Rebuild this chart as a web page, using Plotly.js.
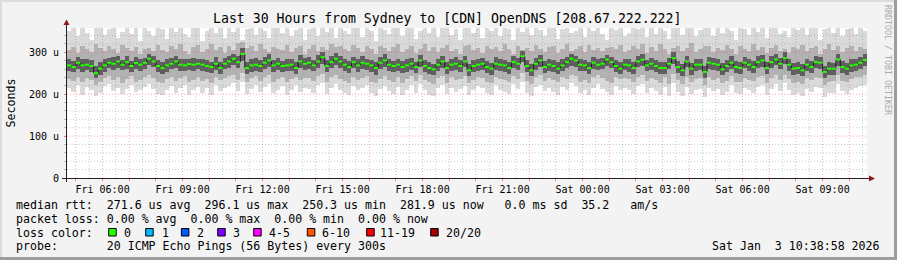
<!DOCTYPE html>
<html><head><meta charset="utf-8">
<script src="https://cdn.plot.ly/plotly-3.0.1.min.js"></script>
<style>html,body{margin:0;padding:0;background:#f3f3f3;overflow:hidden}#chart{width:897px;height:260px}</style>
</head><body><div id="chart"></div>
<script>
// ---- data (values in microseconds) ----
const startTime = [2026, 0, 2, 4, 40]; // Fri Jan 2 2026 04:40
const stepMinutes = 10;

const median = [
268.8,264.9,275.1,268.8,270.4,267.3,250.3,261.0,268.8,275.1,272.7,278.2,270.4,276.6,267.3,274.3,270.4,275.1,
284.5,278.2,267.3,262.5,268.8,272.7,278.2,270.4,268.8,271.9,270.4,272.7,270.4,267.3,264.9,272.7,262.5,272.7,
278.2,284.5,276.6,296.1,262.5,268.8,270.4,267.3,275.1,280.5,268.8,272.7,267.3,268.8,270.4,262.5,278.2,272.7,
275.1,268.8,278.2,288.4,267.3,276.6,284.5,278.2,270.4,264.9,276.6,268.8,275.1,272.7,268.8,262.5,275.1,280.5,
270.4,267.3,270.4,264.9,268.8,272.7,264.9,280.5,267.3,262.5,259.4,270.4,278.2,262.5,270.4,272.7,267.3,278.2,
257.1,267.3,270.4,272.7,264.9,261.0,272.7,270.4,268.8,262.5,276.6,272.7,290.7,267.3,257.1,272.7,280.5,264.9,
270.4,267.3,261.0,268.8,276.6,284.5,280.5,270.4,268.8,262.5,275.1,270.4,272.7,282.9,276.6,267.3,261.0,270.4,
268.8,262.5,278.2,282.1,268.8,272.7,267.3,262.5,262.5,272.7,286.0,264.9,257.1,278.2,261.0,270.4,270.4,253.2,
275.1,272.7,270.4,259.4,267.3,275.1,264.9,262.5,275.1,270.4,264.9,276.6,280.5,262.5,276.6,282.9,272.7,286.0,
270.4,261.0,262.5,257.1,270.4,264.9,276.6,275.1,253.2,261.0,261.0,282.9,264.9,261.0,268.8,270.4,275.1,281.9];

const pingMax = [
352,360,338,365,347,329,358,362,341,355,368,333,349,361,344,357,326,363,
350,339,366,356,331,362,348,370,343,336,359,364,327,352,367,345,358,335,
361,349,372,330,356,363,342,368,351,334,360,357,346,369,338,353,364,329,
355,366,340,359,348,371,333,362,352,344,367,358,337,363,350,328,365,354,
343,360,368,339,357,364,332,351,369,346,361,336,358,366,341,355,330,362,
368,347,359,334,365,352,361,340,370,356,329,363,348,357,342,367,353,338,
359,364,331,356,369,345,352,362,337,366,350,358,343,329,361,354,367,340,
347,363,355,370,336,360,344,368,351,331,357,365,342,359,372,338,353,361,
364,339,358,346,367,352,330,363,356,341,369,348,360,335,357,366,344,351,
336,361,353,367,342,358,364,329,355,370,347,362,338,356,365,343,359,352];

const pingHigh = [
305,312,298,316,308,301,319,310,303,314,307,299,317,311,304,313,296,309,
311,302,318,306,300,315,309,321,304,297,313,317,301,308,320,305,312,299,
314,306,322,325,310,316,303,319,307,300,312,309,305,318,301,311,315,297,
308,317,302,313,306,320,312,314,309,303,318,311,300,315,307,296,316,310,
303,312,319,301,309,315,298,307,321,304,313,300,310,317,302,308,297,314,
318,305,311,299,316,308,313,302,320,309,296,314,306,310,303,317,308,300,
312,316,298,309,319,304,307,314,300,317,306,311,303,310,313,308,318,301,
305,315,309,321,299,312,303,319,307,296,310,316,302,311,322,300,308,314,
316,300,310,305,318,307,297,314,309,302,320,306,312,299,310,317,303,308,
298,313,308,318,303,311,315,296,309,321,305,314,300,310,316,302,312,307];

const pingUpperMid = [
283,279,288,284,283,281,268,276,285,287,288,291,282,290,280,289,284,287,
297,291,281,277,284,286,292,283,285,284,286,285,283,282,278,288,276,286,
292,297,290,310,277,283,286,281,288,295,282,287,280,284,283,277,293,286,
289,282,293,301,281,290,298,291,284,279,289,283,290,285,282,277,288,295,
284,280,285,279,283,287,278,294,281,277,273,285,291,276,284,288,281,292,
272,281,284,287,279,275,288,283,282,277,291,286,304,281,272,287,294,279,
284,281,276,283,289,295,292,284,282,277,288,283,286,294,289,281,276,285,
283,277,292,296,282,287,281,276,277,286,300,279,271,291,275,285,283,268,
289,286,284,274,281,290,279,277,288,284,279,291,294,277,290,297,286,300,
284,275,277,272,285,279,290,289,268,276,275,297,279,275,283,285,289,296];

const pingLowerMid = [
255,252,260,253,257,254,238,247,254,262,258,263,257,261,253,259,256,261,
270,264,252,249,254,259,263,255,256,258,255,259,256,252,251,257,248,259,
263,270,262,279,248,254,255,253,261,265,254,258,253,255,256,248,263,258,
261,255,263,273,252,262,270,263,256,250,262,253,260,258,254,247,261,266,
256,253,255,250,254,258,251,266,252,248,245,256,263,248,255,258,253,264,
243,253,256,258,250,247,257,256,254,248,262,258,276,253,243,258,266,251,
256,254,248,255,262,268,265,256,255,249,261,257,259,268,262,254,248,257,
254,249,264,268,255,258,253,248,249,259,272,251,243,264,247,256,257,239,
261,258,256,245,253,261,251,248,262,256,250,262,266,249,263,269,259,272,
256,247,248,243,256,251,262,261,239,247,246,268,250,247,254,256,261,267];

const pingLow = [
236,231,242,228,239,234,222,229,238,244,233,240,227,237,243,230,235,241,
245,238,229,226,236,241,232,239,244,228,235,240,231,237,226,242,234,239,
243,247,234,250,229,238,244,232,240,246,230,237,242,228,236,241,233,239,
238,232,244,248,229,240,245,236,231,227,242,235,239,244,230,226,237,243,
234,229,240,226,237,243,231,245,235,228,224,238,244,227,240,233,236,243,
226,235,241,238,230,227,242,236,233,229,244,237,250,231,225,240,245,232,
239,233,228,241,236,247,243,230,235,226,240,246,238,232,227,242,236,239,
237,228,242,245,231,239,234,227,240,225,248,233,224,241,229,236,238,222,
240,234,238,226,232,243,230,228,239,235,231,240,244,227,238,245,233,247,
236,226,230,224,238,233,241,239,222,229,231,246,232,228,237,240,242,245];

const pingMin = [
214,205,221,199,217,210,196,203,219,225,208,216,201,213,222,206,211,218,
224,212,200,197,209,220,204,215,223,199,210,218,203,214,198,221,207,216,
220,226,208,228,201,213,222,205,217,224,202,211,219,198,209,221,206,215,
213,204,222,227,200,216,224,209,203,197,220,210,215,223,202,196,212,219,
207,201,217,198,211,221,204,225,209,199,195,214,222,200,216,206,212,220,
197,209,219,214,203,199,221,210,205,200,224,213,229,204,196,217,223,207,
215,206,199,218,211,226,220,203,209,197,216,225,212,205,198,219,210,214,
211,200,219,224,204,215,208,198,217,196,227,206,195,218,201,210,213,193,
216,208,213,197,205,221,203,200,214,209,204,217,223,199,212,224,207,226,
210,197,203,195,213,206,218,214,193,202,204,225,207,200,211,216,220,223];

const xTickLabels = ['Fri 06:00','Fri 09:00','Fri 12:00','Fri 15:00','Fri 18:00','Fri 21:00',
                     'Sat 00:00','Sat 03:00','Sat 06:00','Sat 09:00'];
const yTickVals = [0, 100, 200, 300];
const yTickLabels = ['0', '100 u', '200 u', '300 u'];

const lossLabels = ['0', '1', '2', '3', '4-5', '6-10', '11-19', '20/20'];
const lossColors = ['#26ff00', '#00b8ff', '#0059ff', '#7e00ff', '#ff00ff', '#ff5500', '#ff0000', '#a10000'];

const titleText = 'Last 30 Hours from Sydney to [CDN] OpenDNS [208.67.222.222]';
const legendLines = [
  'median rtt:  271.6 us avg  296.1 us max  250.3 us min  281.9 us now   0.0 ms sd  35.2   am/s',
  'packet loss: 0.00 % avg  0.00 % max  0.00 % min  0.00 % now',
  'loss color:',
  'probe:       20 ICMP Echo Pings (56 Bytes) every 300s'
];
const dateStamp = 'Sat Jan  3 10:38:58 2026';
const watermark = 'RRDTOOL / TOBI OETIKER';

// ---- build ----
const MONO = 'DejaVu Sans Mono';
const stepMs = stepMinutes * 60000;
const t0 = Date.UTC(...startTime);
const fmt = ms => new Date(ms).toISOString().replace('T', ' ').slice(0, 19);
const times = median.map((_, i) => fmt(t0 + i * stepMs));
const tEnd = fmt(t0 + median.length * stepMs);

function band(lo, hi, color) {
  return {type: 'bar', x: times, base: lo, y: hi.map((h, i) => h - lo[i]),
          width: stepMs, offset: 0, marker: {color: color, line: {width: 0}},
          hoverinfo: 'skip', showlegend: false};
}
const gx = [], gy = [];
times.forEach((t, i) => { gx.push(t, fmt(t0 + (i + 1) * stepMs), null); gy.push(median[i], median[i], null); });

const traces = [
  band(pingMin, pingMax, '#dadada'),
  band(pingLow, pingHigh, '#b2b2b2'),
  band(pingLowerMid, pingUpperMid, '#5e5e5e'),
  {type: 'scatter', mode: 'lines', x: times, y: median, line: {shape: 'hv', color: '#1a1a1a', width: 1}, hoverinfo: 'skip', showlegend: false},
  {type: 'scatter', mode: 'lines', x: gx, y: gy, line: {color: lossColors[0], width: 2}, connectgaps: false, hoverinfo: 'skip', showlegend: false}
];

// pixel -> paper helpers
const L = 67, T = 28, W = 800, H = 150;
const fx = px => (px - L) / W;
const fy = py => (T + H - py) / H;

// hourly ticks & grid
const hourVals = [], hourText = [];
let labelIdx = 0;
for (let ms = t0 + 20 * 60000; ms <= t0 + median.length * stepMs; ms += 3600000) {
  hourVals.push(fmt(ms));
  const hr = new Date(ms).getUTCHours();
  hourText.push(hr % 3 === 0 ? xTickLabels[labelIdx++] : '');
}
const halfVals = [];
for (let ms = t0 - 10 * 60000 + 3600000; ms < t0 + median.length * stepMs; ms += 3600000) halfVals.push(fmt(ms));

const shapes = [];
const GRAY = 'rgba(140,140,140,0.45)', RED = 'rgba(240,90,90,0.55)';
halfVals.forEach(v => shapes.push({type: 'line', xref: 'x', yref: 'paper', x0: v, x1: v, y0: 0, y1: 1, layer: 'above', line: {color: GRAY, width: 1, dash: '1px,2px'}}));
for (let yv = 20; yv < 358; yv += 20) {
  if (yv % 100 === 0) continue;
  shapes.push({type: 'line', xref: 'paper', yref: 'y', x0: 0, x1: 1, y0: yv, y1: yv, layer: 'above', line: {color: GRAY, width: 1, dash: '1px,2px'}});
}
hourVals.forEach(v => shapes.push({type: 'line', xref: 'x', yref: 'paper', x0: v, x1: v, y0: 0, y1: 1, layer: 'above', line: {color: RED, width: 1, dash: '1px,2px'}}));
[100, 200, 300].forEach(yv => shapes.push({type: 'line', xref: 'paper', yref: 'y', x0: 0, x1: 1, y0: yv, y1: yv, layer: 'above', line: {color: RED, width: 1, dash: '1px,2px'}}));

// axes lines and arrows
const AX = '#222222', ARROW = '#8e1b1b';
shapes.push({type: 'line', xref: 'paper', yref: 'paper', x0: fx(66.5), x1: fx(66.5), y0: fy(182), y1: fy(24), line: {color: AX, width: 1}});
shapes.push({type: 'line', xref: 'paper', yref: 'paper', x0: fx(62), x1: fx(870), y0: fy(178.5), y1: fy(178.5), line: {color: AX, width: 1}});
shapes.push({type: 'path', xref: 'paper', yref: 'paper', fillcolor: ARROW, line: {width: 0},
  path: `M ${fx(63.5)} ${fy(25)} L ${fx(69.5)} ${fy(25)} L ${fx(66.5)} ${fy(19.5)} Z`});
shapes.push({type: 'path', xref: 'paper', yref: 'paper', fillcolor: ARROW, line: {width: 0},
  path: `M ${fx(869)} ${fy(175.5)} L ${fx(869)} ${fy(181.5)} L ${fx(875)} ${fy(178.5)} Z`});

// border
shapes.push({type: 'rect', xref: 'paper', yref: 'paper', x0: fx(0), x1: fx(897), y0: fy(0), y1: fy(2), fillcolor: '#dcdcdc', line: {width: 0}});
shapes.push({type: 'rect', xref: 'paper', yref: 'paper', x0: fx(0), x1: fx(2), y0: fy(0), y1: fy(260), fillcolor: '#dcdcdc', line: {width: 0}});
shapes.push({type: 'rect', xref: 'paper', yref: 'paper', x0: fx(0), x1: fx(897), y0: fy(257), y1: fy(260), fillcolor: '#9d9d9d', line: {width: 0}});
shapes.push({type: 'rect', xref: 'paper', yref: 'paper', x0: fx(894), x1: fx(897), y0: fy(0), y1: fy(260), fillcolor: '#9d9d9d', line: {width: 0}});

// loss colour boxes
const boxLeft = [108.7, 145.7, 181.4, 217.7, 253.7, 307.3, 366.7, 430.7];
const boxLabelLeft = [123.2, 160.5, 195.9, 232.2, 268.2, 320.9, 379.2, 444.9];
lossColors.forEach((c, i) => shapes.push({type: 'rect', xref: 'paper', yref: 'paper',
  x0: fx(boxLeft[i]), x1: fx(boxLeft[i] + 7.5), y0: fy(228.5), y1: fy(236), fillcolor: c, line: {color: '#000', width: 1}}));

const ann = [];
const nb = s => s.replace(/ /g, '\u00a0');
function txt(text, px, py, size, opts) {
  return Object.assign({xref: 'paper', yref: 'paper', x: fx(px), y: fy(py), text: nb(text), showarrow: false,
    xanchor: 'left', yanchor: 'middle', font: {family: MONO, size: size, color: '#000'}, borderpad: 0}, opts || {});
}
ann.push(txt(titleText, 446.5, 19, 13.2, {xanchor: 'center'}));
legendLines.forEach((s, i) => ann.push(txt(s, 15.3, 204.5 + 14 * i, 11.6)));
lossLabels.forEach((s, i) => ann.push(txt(s, boxLabelLeft[i], 232.5, 11.6)));
ann.push(txt(dateStamp, 881, 246.5, 11.6, {xanchor: 'right'}));
ann.push(txt('Seconds', 10.5, 103, 11.6, {xanchor: 'center', textangle: -90}));
ann.push(txt(watermark, 888, 60, 8.3, {xanchor: 'center', textangle: 90, font: {family: MONO, size: 8.3, color: '#ababab'}}));

const layout = {
  width: 897, height: 260,
  margin: {l: L, r: 897 - L - W, t: T, b: 260 - T - H, pad: 0},
  paper_bgcolor: '#f3f3f3', plot_bgcolor: '#ffffff',
  barmode: 'overlay', bargap: 0, showlegend: false,
  xaxis: {type: 'date', range: [fmt(t0), tEnd], tickmode: 'array', tickvals: hourVals, ticktext: hourText,
    ticks: 'outside', ticklen: 2, tickcolor: '#f08080', showgrid: false, zeroline: false, showline: false,
    tickfont: {family: MONO, size: 10, color: '#000'}, fixedrange: true},
  yaxis: {range: [0, 358], tickmode: 'array', tickvals: yTickVals, ticktext: yTickLabels,
    ticks: 'outside', ticklen: 2, tickcolor: '#f08080', showgrid: false, zeroline: false, showline: false,
    minor: {dtick: 20, ticks: 'outside', ticklen: 2, tickcolor: '#bbbbbb', showgrid: false},
    tickfont: {family: MONO, size: 10, color: '#000'}, ticklabelstandoff: 3, fixedrange: true},
  shapes: shapes, annotations: ann
};
Plotly.newPlot('chart', traces, layout, {staticPlot: true, displayModeBar: false});
</script></body></html>
